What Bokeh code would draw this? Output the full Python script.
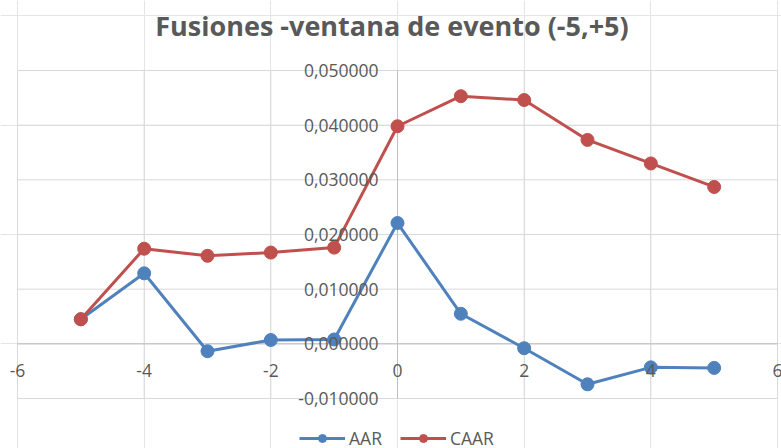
from bokeh.plotting import figure
from bokeh.models import (Range1d, LabelSet, Label, ColumnDataSource, Legend, LegendItem)
from bokeh.core.properties import value
from bokeh.embed import file_html
from bokeh.resources import INLINE

# ---- data ----
event_days = [-5, -4, -3, -2, -1, 0, 1, 2, 3, 4, 5]
aar = [0.0045, 0.0129, -0.00135, 0.0007, 0.0008, 0.0221, 0.0055, -0.0008, -0.0074, -0.0043, -0.0044]
caar = [0.0045, 0.0174, 0.0161, 0.0167, 0.0176, 0.0398, 0.0453, 0.0446, 0.0373, 0.0330, 0.0287]

x_ticks = [-6, -4, -2, 0, 2, 4, 6]
x_tick_labels = ["-6", "-4", "-2", "0", "2", "4", "6"]
y_ticks = [-0.01, 0.0, 0.01, 0.02, 0.03, 0.04, 0.05]
y_tick_labels = ["-0,010000", "0,000000", "0,010000", "0,020000", "0,030000", "0,040000", "0,050000"]

title_text = "Fusiones -ventana de evento (-5,+5)"
series_names = ["AAR", "CAAR"]

# ---- style / layout ----
BLUE = "#4F81BD"
RED = "#C0504D"
GRID = "#d9d9d9"
AXIS = "#bfbfbf"
TEXT = "#595959"
FONT = "Open Sans"

W, H = 781, 448
PL, PR, PT, PB = 17, 777, 70, 398   # plot-area edges in canvas pixels

x_lo, x_hi = x_ticks[0], x_ticks[-1]
y_lo, y_hi = y_ticks[0], y_ticks[-1]
sx = (x_hi - x_lo) / (PR - PL)
sy = (y_hi - y_lo) / (PB - PT)

p = figure(width=W, height=H, output_backend="svg", toolbar_location=None, title=None,
           x_range=Range1d(x_lo - PL * sx, x_hi + (W - PR) * sx),
           y_range=Range1d(y_lo - (H - PB) * sy, y_hi + PT * sy),
           x_axis_location=None, y_axis_location=None, min_border=0)
p.outline_line_color = None
p.background_fill_color = "white"
p.border_fill_color = "white"

# gridlines (plot area) built from the tick lists
p.segment(x0=x_ticks, y0=[y_lo] * len(x_ticks), x1=x_ticks, y1=[y_hi] * len(x_ticks),
          line_color=GRID, line_width=1)
p.segment(x0=[x_lo] * len(y_ticks), y0=y_ticks, x1=[x_hi] * len(y_ticks), y1=y_ticks,
          line_color=GRID, line_width=1)
# axes crossing at zero
p.segment(x0=[x_lo], y0=[0], x1=[x_hi], y1=[0], line_color=AXIS, line_width=1)
p.segment(x0=[0], y0=[y_lo], x1=[0], y1=[y_hi], line_color=AXIS, line_width=1)

src = ColumnDataSource(dict(x=event_days, aar=aar, caar=caar))
l1 = p.line("x", "aar", source=src, line_color=BLUE, line_width=3)
s1 = p.scatter("x", "aar", source=src, size=13, fill_color=BLUE, line_color=BLUE)
l2 = p.line("x", "caar", source=src, line_color=RED, line_width=3)
s2 = p.scatter("x", "caar", source=src, size=13, fill_color=RED, line_color=RED)

# tick labels placed where the axes cross (Excel style)
ysrc = ColumnDataSource(dict(x=[0] * len(y_ticks), y=y_ticks, t=y_tick_labels))
p.add_layout(LabelSet(x="x", y="y", text="t", source=ysrc, x_offset=-19,
                      text_align="right", text_baseline="middle",
                      text_font=value(FONT), text_font_size=value("17.5px"), text_color=TEXT))
xsrc = ColumnDataSource(dict(x=x_ticks, y=[0] * len(x_ticks), t=x_tick_labels))
p.add_layout(LabelSet(x="x", y="y", text="t", source=xsrc, y_offset=-27,
                      text_align="center", text_baseline="middle",
                      text_font=value(FONT), text_font_size=value("17.5px"), text_color=TEXT))

p.add_layout(Label(x=391.5, y=H - 25, x_units="screen", y_units="screen", text=title_text,
                   text_align="center", text_baseline="middle", text_font=FONT,
                   text_font_size="27px", text_font_style="bold", text_color=TEXT))

legend = Legend(items=[LegendItem(label=series_names[0], renderers=[l1, s1]),
                       LegendItem(label=series_names[1], renderers=[l2, s2])],
                orientation="horizontal", location=(299, -2),
                border_line_color=None, background_fill_alpha=0,
                label_text_font=FONT, label_text_font_size="17.5px", label_text_color=TEXT,
                glyph_width=46, glyph_height=20, label_standoff=4, spacing=18,
                padding=0, margin=0)
p.add_layout(legend)

open("out.html", "w").write(file_html(p, INLINE))
